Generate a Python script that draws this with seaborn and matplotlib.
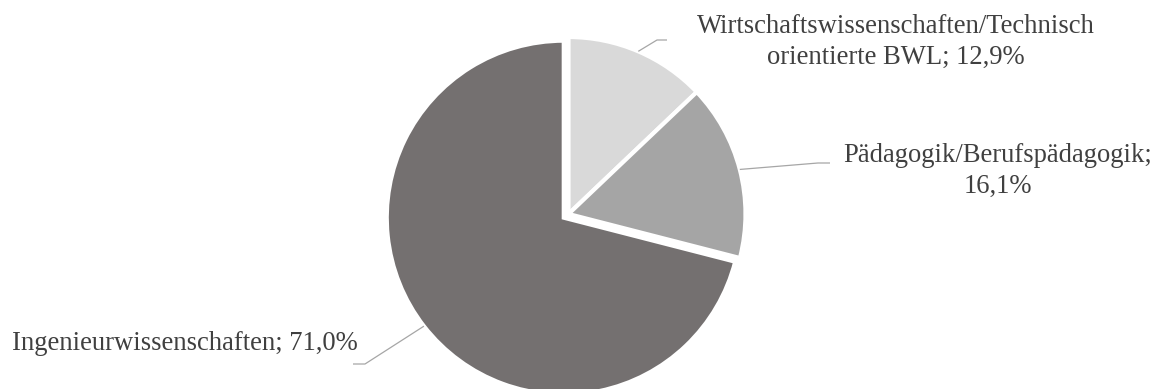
import numpy as np
import matplotlib
matplotlib.use("Agg")
import matplotlib.pyplot as plt
import seaborn as sns

categories = ["Wirtschaftswissenschaften/Technisch orientierte BWL",
              "Pädagogik/Berufspädagogik",
              "Ingenieurwissenschaften"]
values = [12.9, 16.1, 71.0]
label_texts = ["Wirtschaftswissenschaften/Technisch\norientierte BWL; 12,9%",
               "Pädagogik/Berufspädagogik;\n16,1%",
               "Ingenieurwissenschaften; 71,0%"]
colors = ["#D9D9D9", "#A5A5A5", "#747070"]

sns.set_theme(style="white")
plt.rcParams['font.family'] = ['Liberation Serif', 'DejaVu Serif']

W, H = 1157, 389
fig = plt.figure(figsize=(W / 100, H / 100), dpi=100)
ax = fig.add_axes([0, 0, 1, 1])

cx, cy, R = 568.5, H - 214, 177
explode = [0, 0, 6]
wedges, _ = ax.pie(values, colors=colors, startangle=90, counterclock=False,
                   center=(cx, cy), radius=R, explode=explode,
                   wedgeprops=dict(edgecolor="white", linewidth=3),
                   frame=True)
ax.set_xlim(0, W)
ax.set_ylim(0, H)
ax.set_aspect("equal")
ax.axis("off")

# label centres x and baselines (image pixel rows), leader elbows
text_x = [896, 997.5, 184.5]
text_base = [[33, 64], [162, 193], [350]]
elbows = [[(657, 40), (667, 40)], [(818, 163), (830, 163)], [(365, 364), (353, 364)]]
text_col = "#404040"
line_col = "#A6A6A6"
for i, w in enumerate(wedges):
    th = np.deg2rad((w.theta1 + w.theta2) / 2)
    px = w.center[0] + w.r * np.cos(th)
    py = w.center[1] + w.r * np.sin(th)
    xs = [px] + [e[0] for e in elbows[i]]
    ys = [py] + [H - e[1] for e in elbows[i]]
    ax.plot(xs, ys, color=line_col, lw=0.9, solid_capstyle="butt")
    for line, b in zip(label_texts[i].split("\n"), text_base[i]):
        ax.text(text_x[i], H - b, line, ha="center", va="baseline",
                fontsize=19.2, color=text_col)

fig.savefig("out.png", dpi=100)
